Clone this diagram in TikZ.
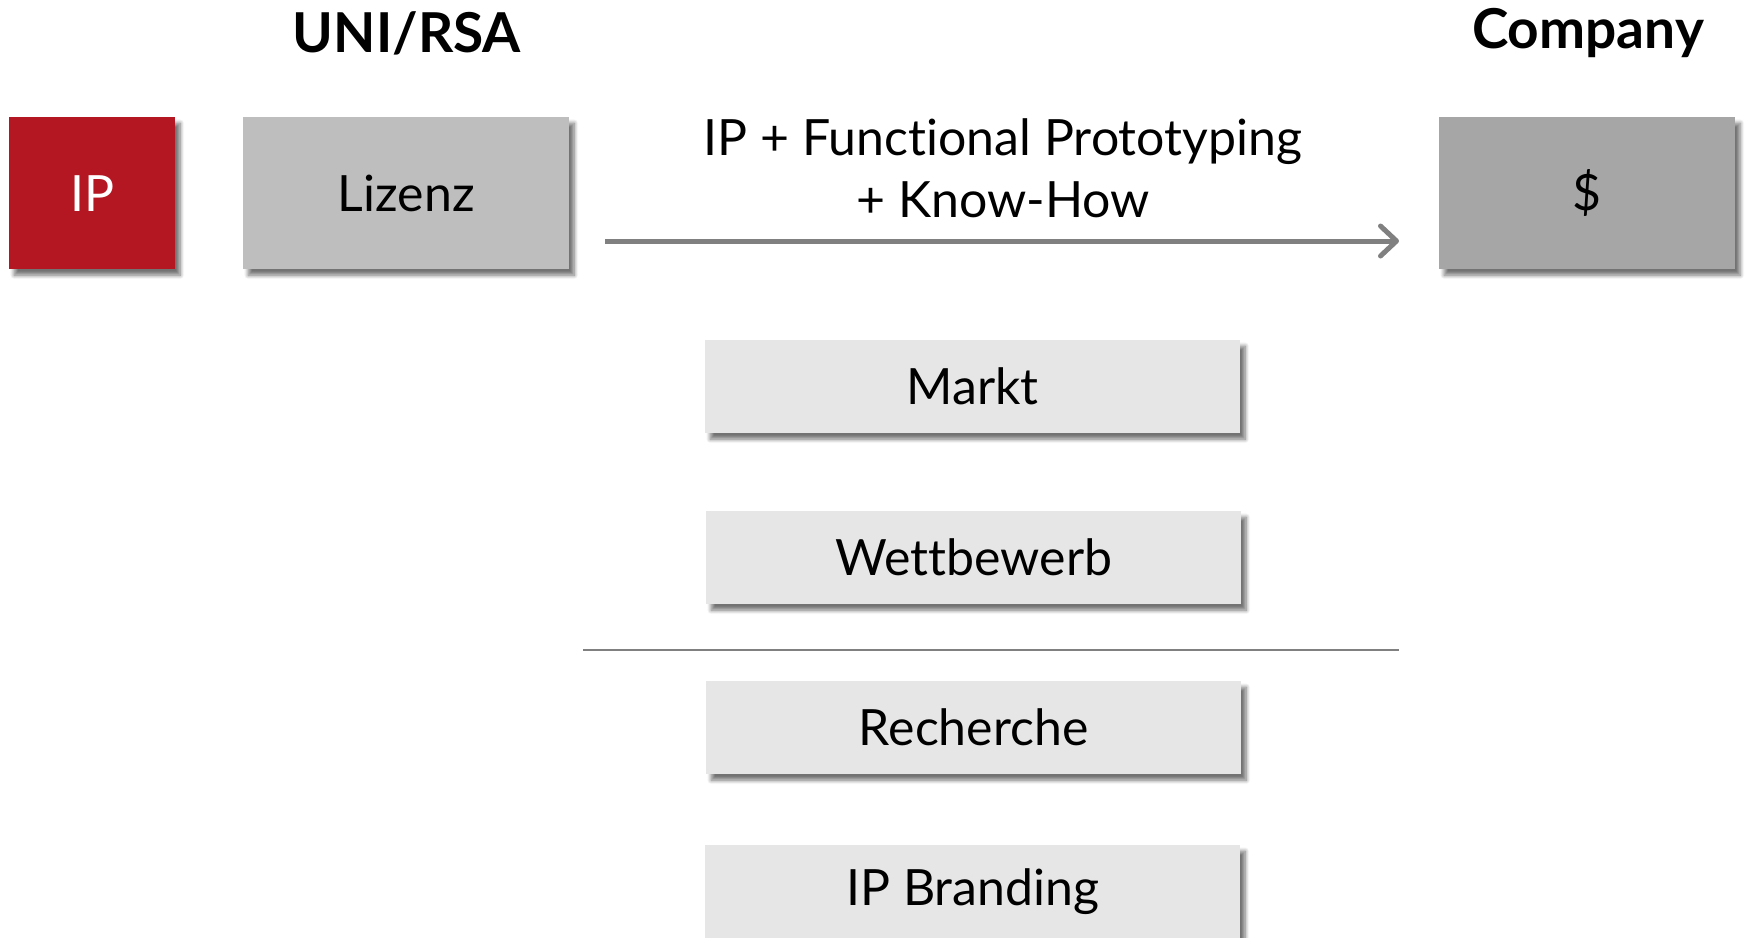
\documentclass[tikz,border=0pt]{standalone}
\usepackage{fontspec}
\setmainfont[Ligatures=CommonOff]{Lato}
\usetikzlibrary{positioning,shadows.blur,arrows.meta}

\definecolor{ipred}{HTML}{B41722}
\definecolor{lizgray}{HTML}{BEBEBE}
\definecolor{cogray}{HTML}{A6A6A6}
\definecolor{boxgray}{HTML}{E6E6E6}
\definecolor{linegray}{HTML}{808080}

\tikzset{
  box/.style={rectangle, inner sep=0pt, anchor=north west,
    font=\fontsize{50}{60}\selectfont,
    blur shadow={shadow xshift=5pt, shadow yshift=-6pt, shadow blur radius=4pt,
      shadow blur steps=8, shadow opacity=55}},
  headline/.style={font=\fontsize{55}{66}\selectfont\bfseries}
}

\begin{document}
\begin{tikzpicture}[x=1pt, y=-1pt]
\useasboundingbox (0,0) rectangle (1748,937);

% two parties and what goes across

\node[headline] (uni) at (407,33) {UNI/RSA};
\node[headline] (comp) at (1588,33) {Company};

\node[box, fill=ipred, text=white, minimum width=166pt, minimum height=152pt] (ip) at (9,117) {IP};
\node[box, fill=lizgray, minimum width=326pt, minimum height=152pt] (liz) at (243,117) {Lizenz};
\node[box, fill=cogray, minimum width=296pt, minimum height=152pt] (money) at (1439,117) {\$};

\coordinate (arrS) at (605,241);
\coordinate (arrE) at (1399,241);
\draw[linegray, line width=5pt, -{Straight Barb[length=16pt, width=30pt, line width=5pt, round]}] (arrS) -- (arrE);
\node[align=center, font=\fontsize{50}{62}\selectfont] (what) at (1003,168) {IP + Functional Prototyping\\+ Know-How};

\node[box, fill=boxgray, minimum width=535pt, minimum height=93pt] (markt) at (705,340) {Markt};
\node[box, fill=boxgray, minimum width=535pt, minimum height=93pt] (wett) at (706,511) {Wettbewerb};

\coordinate (sepL) at (583,650);
\coordinate (sepR) at (1399,650);
\draw[linegray, line width=2pt] (sepL) -- (sepR);

\node[box, fill=boxgray, minimum width=535pt, minimum height=93pt] (rech) at (706,681) {Recherche};
\node[box, fill=boxgray, minimum width=535pt, minimum height=93pt] (brand) at (705,845) {IP Branding};

\end{tikzpicture}
\end{document}
